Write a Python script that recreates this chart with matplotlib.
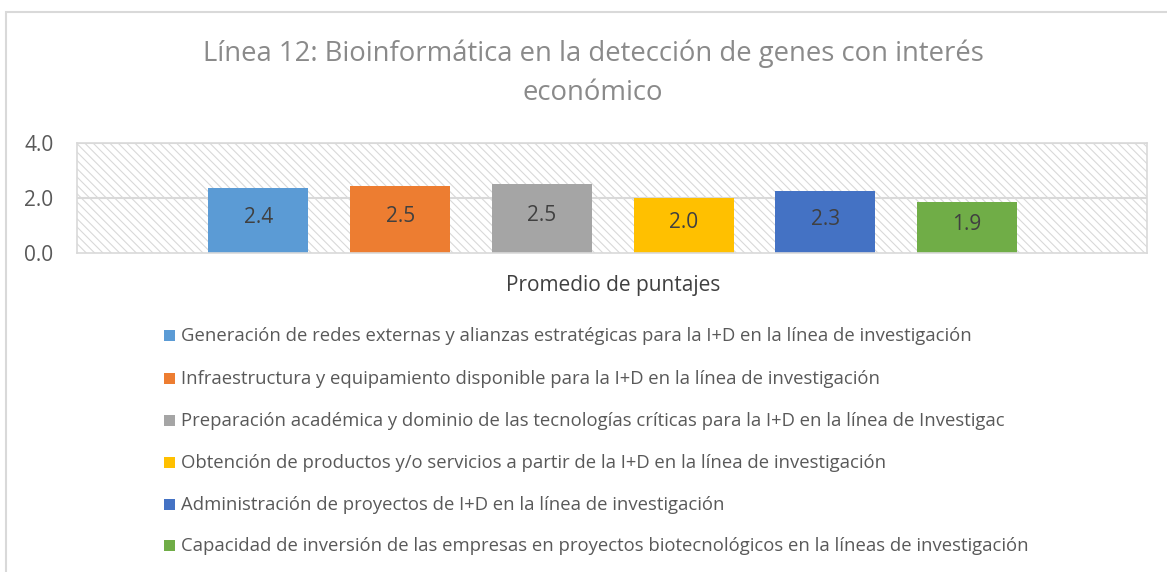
import matplotlib.pyplot as plt
from matplotlib.patches import Rectangle

series = [
    "Generación de redes externas y alianzas estratégicas para la I+D en la línea de investigación",
    "Infraestructura y equipamiento disponible para la I+D en la línea de investigación",
    "Preparación académica y dominio de las tecnologías críticas para la I+D en la línea de Investigac",
    "Obtención de productos y/o servicios a partir de la I+D en la línea de investigación",
    "Administración de proyectos de I+D en la línea de investigación",
    "Capacidad de inversión de las empresas en proyectos biotecnológicos en la líneas de investigación",
]
values = [2.35, 2.45, 2.52, 2.0, 2.27, 1.87]
colors = ["#5b9bd5", "#ed7d31", "#a5a5a5", "#ffc000", "#4472c4", "#70ad47"]
yticks = [0.0, 2.0, 4.0]

plt.rcParams['font.family'] = ['Open Sans', 'DejaVu Sans']
plt.rcParams['hatch.color'] = '#d9d9d9'
plt.rcParams['hatch.linewidth'] = 0.8

fig = plt.figure(figsize=(11.67, 5.72), dpi=100)
ax = fig.add_axes([77 / 1167, 1 - 253 / 572, 1070 / 1167, 110 / 572])

# hatched plot area
ax.add_patch(Rectangle((0, 0), 1, 1, transform=ax.transAxes, facecolor='white',
                       edgecolor='#d9d9d9', hatch='\\\\\\\\', lw=0, zorder=0))
for y in yticks[1:]:
    ax.axhline(y, color='#d9d9d9', lw=1.5, zorder=1)

x = range(len(values))
bars = ax.bar(x, values, width=0.705, color=colors, zorder=2)
for xi, v in zip(x, values):
    ax.text(xi, v / 2 + 0.1, f"{v:.1f}", ha='center', va='center', fontsize=15,
            color='#404040', zorder=3)

ax.set_xlim(-1.28, 6.27)
ax.set_ylim(0, 4)
ax.set_yticks(yticks)
ax.set_yticklabels([f"{t:.1f}" for t in yticks], fontsize=15, color='#595959')
ax.set_xticks([])
ax.tick_params(axis='y', length=0, pad=17)
for s in ax.spines.values():
    s.set_color('#d9d9d9')
    s.set_linewidth(1.2)

fig.text(593 / 1167, 1 - 54 / 572, "Línea 12: Bioinformática en la detección de genes con interés",
         ha='center', va='center', fontsize=19.8, color='#8a8a8a')
fig.text(593 / 1167, 1 - 93 / 572, "económico",
         ha='center', va='center', fontsize=19.8, color='#8a8a8a')
fig.text(613 / 1167, 1 - 286 / 572, "Promedio de puntajes", ha='center', va='center',
         fontsize=15, color='#404040')

leg_y = [336, 379, 421, 463, 505, 546]
for lab, c, yy in zip(series, colors, leg_y):
    fig.patches.append(Rectangle((164 / 1167, 1 - (yy + 5) / 572), 11 / 1167, 11 / 572,
                                 transform=fig.transFigure, facecolor=c, edgecolor='none'))
    fig.text(181 / 1167, 1 - yy / 572, lab, ha='left', va='center', fontsize=13.3,
             color='#595959')

# chart border
fig.patches.append(Rectangle((6 / 1167, -0.1), 1.2, 1.1 - 12 / 572, transform=fig.transFigure,
                             fill=False, edgecolor='#d9d9d9', lw=1.5))

fig.savefig('out.png', dpi=100)
